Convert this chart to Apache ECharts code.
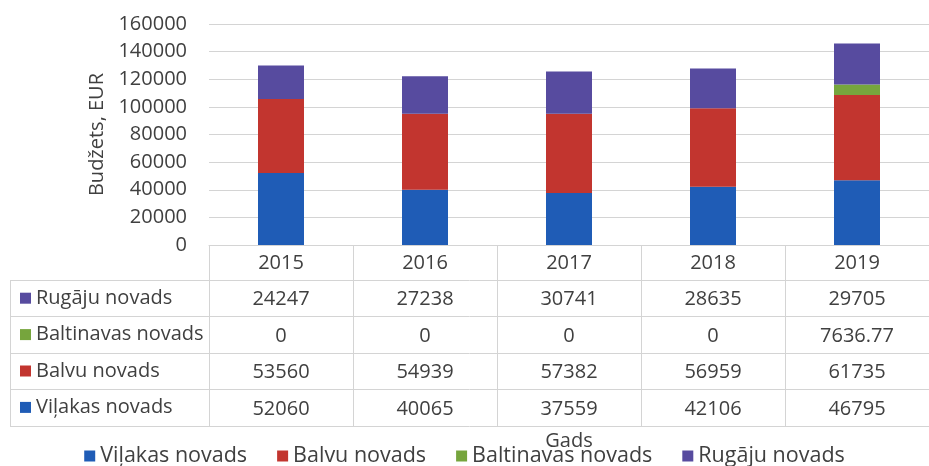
<!DOCTYPE html>
<html>
<head>
<meta charset="utf-8">
<script src="https://cdn.jsdelivr.net/npm/echarts@6/dist/echarts.min.js"></script>
<style>
html,body{margin:0;padding:0;background:#fff;}
#c{width:929px;height:466px;}
</style>
</head>
<body>
<div id="c"></div>
<script>
const years = ['2015', '2016', '2017', '2018', '2019'];
const vilakas = [52060, 40065, 37559, 42106, 46795];
const balvu = [53560, 54939, 57382, 56959, 61735];
const baltinavas = [0, 0, 0, 0, 7636.77];
const rugaju = [24247, 27238, 30741, 28635, 29705];
const seriesNames = ['Viļakas novads', 'Balvu novads', 'Baltinavas novads', 'Rugāju novads'];
const seriesData = [vilakas, balvu, baltinavas, rugaju];
const seriesColors = ['#1f5cb6', '#c2352f', '#76a53d', '#574b9f'];
const tableRowNames = ['Rugāju novads', 'Baltinavas novads', 'Balvu novads', 'Viļakas novads'];
const tableRows = [rugaju, baltinavas, balvu, vilakas];
const yMax = 160000;
const yInterval = 20000;

const FONT = 'Open Sans';
const TXT = '#404040';
const LINE = '#d4d4d4';
const ROW_H = 36.4;
const TABLE_TOP = 245;
const HEAD_BOTTOM = 280;

const chart = echarts.init(document.getElementById('c'));

const graphics = [];
for (let i = 0; i <= tableRows.length; i++) {
  const y = Math.round(HEAD_BOTTOM + i * ROW_H) + 0.5;
  graphics.push({type: 'line', silent: true, shape: {x1: 10, y1: y, x2: 929, y2: y}, style: {stroke: LINE, lineWidth: 1}});
}
graphics.push({type: 'line', silent: true, shape: {x1: 10.5, y1: HEAD_BOTTOM, x2: 10.5, y2: Math.round(HEAD_BOTTOM + tableRows.length * ROW_H) + 0.5}, style: {stroke: LINE, lineWidth: 1}});

chart.setOption({
  animation: false,
  textStyle: {fontFamily: FONT},
  grid: {left: 209, right: -11, top: 24, bottom: 221, containLabel: false},
  xAxis: {
    type: 'category',
    data: years,
    name: 'Gads',
    nameLocation: 'middle',
    nameGap: 186,
    nameTextStyle: {fontSize: 20, color: TXT, fontFamily: FONT},
    axisLine: {show: true, lineStyle: {color: LINE}},
    axisTick: {show: true, length: Math.round(HEAD_BOTTOM - TABLE_TOP + tableRows.length * ROW_H), lineStyle: {color: LINE}},
    axisLabel: {
      margin: 0,
      fontSize: 20,
      color: TXT,
      lineHeight: ROW_H,
      fontFamily: FONT,
      formatter: function (val, idx) {
        return [val].concat(tableRows.map(r => String(r[idx]))).join('\n');
      }
    }
  },
  yAxis: {
    type: 'value',
    min: 0,
    max: yMax,
    interval: yInterval,
    name: 'Budžets, EUR',
    nameLocation: 'middle',
    nameGap: 101,
    nameTextStyle: {fontSize: 20, color: TXT, fontFamily: FONT},
    axisLine: {show: false},
    axisTick: {show: false},
    axisLabel: {margin: 22, fontSize: 20, color: TXT, fontFamily: FONT, formatter: v => String(v)},
    splitLine: {lineStyle: {color: LINE}}
  },
  legend: [
    {
      id: 'bottom',
      bottom: -1,
      left: 'center',
      padding: 0,
      itemWidth: 11,
      itemHeight: 11,
      itemGap: 30,
      icon: 'rect',
      selectedMode: false,
      data: seriesNames,
      textStyle: {fontSize: 21.5, color: TXT, fontFamily: FONT}
    },
    {
      id: 'rows',
      orient: 'vertical',
      left: 20,
      top: HEAD_BOTTOM,
      padding: 0,
      itemWidth: 11,
      itemHeight: 11,
      itemGap: 0,
      icon: 'rect',
      selectedMode: false,
      data: tableRowNames,
      textStyle: {fontSize: 20, color: TXT, fontFamily: FONT, lineHeight: ROW_H}
    }
  ],
  series: seriesNames.map((n, i) => ({
    name: n,
    type: 'bar',
    stack: 'total',
    barWidth: 46,
    data: seriesData[i],
    itemStyle: {color: seriesColors[i]}
  })),
  graphic: graphics
});
</script>
</body>
</html>
